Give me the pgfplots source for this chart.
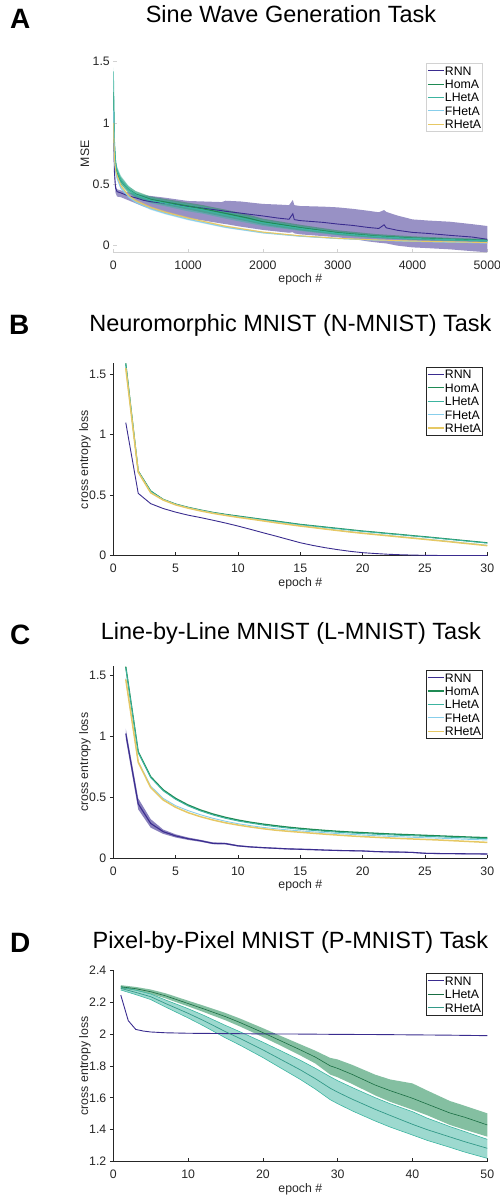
\documentclass[border=0pt]{standalone}
\usepackage{pgfplots}
\pgfplotsset{compat=1.18}
\usepackage{pgfplotstable}
\usepgfplotslibrary{fillbetween}
\usepackage{fontspec}
\setmainfont{Liberation Sans}
\definecolor{rnn}{RGB}{58,44,143}
\definecolor{homa}{RGB}{31,138,84}
\definecolor{lheta}{RGB}{60,180,160}
\definecolor{fheta}{RGB}{135,206,235}
\definecolor{rheta}{RGB}{230,200,100}
\definecolor{axgray}{RGB}{38,38,38}
\definecolor{lightax}{RGB}{210,210,210}

% ---------------- Panel A data (x, mean, lower, upper)
\pgfplotstableread{
x m lo hi
0 1.00 0.95 1.05
15 0.60 0.55 0.65
30 0.47 0.43 0.50
50 0.44 0.40 0.46
100 0.43 0.395 0.45
200 0.405 0.37 0.435
300 0.39 0.345 0.42
400 0.37 0.32 0.41
500 0.358 0.30 0.405
700 0.345 0.265 0.39
1000 0.32 0.223 0.364
1200 0.305 0.205 0.36
1450 0.285 0.18 0.355
1500 0.28 0.176 0.366
1700 0.265 0.155 0.36
2000 0.242 0.128 0.34
2200 0.225 0.115 0.335
2350 0.215 0.105 0.33
2400 0.26 0.11 0.372
2420 0.212 0.10 0.33
2500 0.204 0.092 0.323
2800 0.19 0.078 0.318
3000 0.176 0.068 0.312
3200 0.165 0.055 0.30
3400 0.149 0.035 0.285
3550 0.14 0.024 0.272
3620 0.17 0.02 0.29
3650 0.145 0.018 0.275
3800 0.125 0.0 0.245
4000 0.108 -0.014 0.214
4200 0.1 -0.02 0.205
4500 0.084 -0.03 0.195
4800 0.07 -0.045 0.175
5000 0.052 -0.054 0.16
}\Arnn
\pgfplotstableread{
x m lo hi
0 1.25 1.2 1.3
15 0.80 0.76 0.84
30 0.66 0.62 0.70
50 0.60 0.57 0.63
100 0.53 0.50 0.56
200 0.46 0.435 0.485
300 0.42 0.395 0.445
500 0.377 0.355 0.40
700 0.355 0.33 0.38
1000 0.323 0.295 0.35
1200 0.30 0.27 0.33
1500 0.263 0.233 0.293
1800 0.225 0.197 0.253
2000 0.195 0.17 0.22
2500 0.147 0.125 0.17
3000 0.106 0.088 0.125
3500 0.079 0.063 0.095
4000 0.062 0.048 0.076
4500 0.052 0.04 0.064
5000 0.043 0.032 0.054
}\Ahoma
\pgfplotstableread{
x m lo hi
0 1.42 1.38 1.45
15 0.85 0.80 0.90
30 0.68 0.64 0.72
50 0.61 0.575 0.645
100 0.535 0.50 0.57
200 0.46 0.43 0.49
300 0.415 0.39 0.44
500 0.37 0.345 0.395
700 0.345 0.32 0.37
1000 0.31 0.28 0.34
1200 0.29 0.26 0.32
1500 0.25 0.22 0.28
2000 0.185 0.16 0.21
2500 0.14 0.12 0.16
3000 0.10 0.085 0.115
3500 0.075 0.062 0.088
4000 0.058 0.047 0.069
5000 0.04 0.03 0.05
}\Alheta
\pgfplotstableread{
x m lo hi
0 1.10 1.08 1.12
15 0.70 0.68 0.72
30 0.60 0.585 0.615
50 0.55 0.535 0.565
100 0.47 0.458 0.482
200 0.40 0.39 0.41
300 0.355 0.345 0.365
500 0.30 0.291 0.309
700 0.262 0.254 0.27
1000 0.215 0.207 0.223
1500 0.15 0.143 0.157
2000 0.105 0.099 0.111
2500 0.077 0.072 0.082
3000 0.058 0.054 0.062
3500 0.045 0.041 0.049
4000 0.035 0.031 0.039
5000 0.022 0.019 0.025
}\Afheta
\pgfplotstableread{
x m lo hi
0 1.00 0.98 1.02
15 0.72 0.70 0.74
30 0.62 0.605 0.635
50 0.57 0.555 0.585
100 0.49 0.478 0.502
200 0.41 0.40 0.42
300 0.365 0.355 0.375
500 0.31 0.30 0.32
700 0.272 0.264 0.28
1000 0.225 0.217 0.233
1500 0.158 0.151 0.165
2000 0.11 0.104 0.116
2500 0.08 0.075 0.085
3000 0.06 0.056 0.064
3500 0.047 0.043 0.051
4000 0.037 0.033 0.041
5000 0.025 0.022 0.028
}\Arheta

% ---------------- Panel B data
\pgfplotstableread{
x rnn homa lheta fheta rheta
1 1.10 1.59 1.587 1.553 1.55
2 0.515 0.70 0.697 0.693 0.69
3 0.43 0.535 0.532 0.523 0.52
4 0.39 0.466 0.463 0.463 0.46
5 0.36 0.427 0.424 0.423 0.42
6 0.335 0.40 0.397 0.396 0.393
7 0.315 0.378 0.375 0.373 0.37
8 0.293 0.358 0.355 0.353 0.35
9 0.27 0.342 0.339 0.336 0.333
10 0.245 0.328 0.325 0.320 0.317
11 0.218 0.314 0.311 0.306 0.303
12 0.19 0.30 0.297 0.291 0.288
13 0.163 0.287 0.284 0.276 0.273
14 0.135 0.273 0.270 0.262 0.259
15 0.107 0.259 0.256 0.248 0.245
16 0.085 0.248 0.245 0.236 0.233
17 0.066 0.237 0.234 0.223 0.22
18 0.05 0.226 0.223 0.211 0.208
19 0.036 0.215 0.212 0.199 0.196
20 0.025 0.204 0.201 0.188 0.185
21 0.018 0.195 0.192 0.178 0.175
22 0.012 0.185 0.182 0.168 0.165
23 0.008 0.176 0.173 0.158 0.155
24 0.005 0.166 0.163 0.148 0.145
25 0.003 0.157 0.154 0.138 0.135
26 0.002 0.147 0.144 0.128 0.125
27 0.001 0.137 0.134 0.118 0.115
28 0.001 0.127 0.124 0.107 0.104
29 0.0 0.117 0.114 0.097 0.094
30 0.0 0.107 0.104 0.086 0.083
}\Bdata

% ---------------- Panel C data
\pgfplotstableread{
x m lo hi
1 1.02 0.98 1.06
2 0.445 0.40 0.49
3 0.285 0.25 0.32
4 0.218 0.20 0.235
5 0.183 0.17 0.196
6 0.16 0.15 0.17
7 0.143 0.135 0.151
8 0.122 0.115 0.13
9 0.12 0.113 0.127
10 0.102 0.096 0.108
11 0.093 0.088 0.098
12 0.087 0.082 0.092
13 0.082 0.077 0.087
14 0.077 0.072 0.082
15 0.074 0.069 0.079
16 0.071 0.066 0.076
17 0.067 0.063 0.071
18 0.064 0.06 0.068
19 0.062 0.058 0.066
20 0.06 0.056 0.064
21 0.055 0.051 0.059
22 0.052 0.048 0.056
23 0.051 0.047 0.055
24 0.048 0.044 0.052
25 0.041 0.037 0.045
26 0.039 0.035 0.043
27 0.038 0.034 0.042
28 0.037 0.033 0.041
29 0.036 0.032 0.04
30 0.035 0.031 0.039
}\Crnn
\pgfplotstableread{
x homa lheta fheta rheta
1 1.567 1.56 1.47 1.463
2 0.87 0.865 0.79 0.785
3 0.667 0.66 0.59 0.578
4 0.56 0.552 0.49 0.477
5 0.49 0.482 0.43 0.417
6 0.436 0.428 0.39 0.373
7 0.395 0.387 0.356 0.34
8 0.362 0.354 0.327 0.313
9 0.335 0.327 0.303 0.29
10 0.313 0.305 0.283 0.272
11 0.295 0.288 0.267 0.256
12 0.28 0.272 0.253 0.242
13 0.267 0.259 0.242 0.23
14 0.255 0.247 0.232 0.221
15 0.245 0.237 0.224 0.213
16 0.236 0.228 0.216 0.205
17 0.228 0.220 0.209 0.197
18 0.221 0.213 0.202 0.19
19 0.215 0.207 0.196 0.183
20 0.21 0.202 0.19 0.177
21 0.205 0.197 0.185 0.172
22 0.2 0.192 0.18 0.167
23 0.196 0.188 0.176 0.162
24 0.192 0.184 0.172 0.158
25 0.188 0.180 0.168 0.154
26 0.184 0.176 0.165 0.15
27 0.18 0.172 0.161 0.145
28 0.176 0.168 0.157 0.14
29 0.172 0.164 0.153 0.135
30 0.169 0.161 0.15 0.13
}\Cdata

% ---------------- Panel D data
\pgfplotstableread{
x m
1 2.243
2 2.083
3 2.028
4 2.018
5 2.012
7 2.007
10 2.004
15 2.002
20 2.0
25 1.999
30 1.997
35 1.996
40 1.994
45 1.992
50 1.989
}\Drnn
\pgfplotstableread{
x m lo hi
1 2.295 2.285 2.305
3 2.283 2.272 2.294
5 2.264 2.250 2.278
7 2.238 2.222 2.254
10 2.19 2.172 2.208
12 2.158 2.138 2.178
15 2.108 2.085 2.131
17 2.07 2.045 2.095
20 2.008 1.98 2.036
22 1.965 1.935 1.995
25 1.90 1.865 1.935
27 1.855 1.815 1.895
29 1.80 1.745 1.85
30 1.784 1.728 1.84
32 1.745 1.685 1.805
35 1.68 1.615 1.745
37 1.645 1.575 1.715
40 1.597 1.525 1.69
42 1.56 1.49 1.645
45 1.505 1.43 1.58
47 1.478 1.40 1.55
50 1.43 1.357 1.503
}\Dlheta
\pgfplotstableread{
x m lo hi
1 2.285 2.275 2.295
3 2.26 2.246 2.274
5 2.233 2.215 2.25
7 2.19 2.168 2.212
10 2.129 2.10 2.158
12 2.085 2.052 2.118
15 2.014 1.975 2.053
17 1.97 1.928 2.012
20 1.90 1.852 1.948
22 1.85 1.797 1.903
25 1.775 1.715 1.835
27 1.72 1.655 1.785
29 1.66 1.588 1.732
30 1.635 1.563 1.707
32 1.59 1.517 1.663
35 1.528 1.455 1.601
37 1.49 1.417 1.563
40 1.434 1.367 1.513
42 1.40 1.333 1.472
45 1.355 1.29 1.42
47 1.325 1.26 1.388
50 1.284 1.221 1.34
}\Drheta

\newcommand{\band}[5]{%
  \addplot[name path=#1u, draw=none, forget plot] table[x=x,y=hi]{#2};
  \addplot[name path=#1l, draw=none, forget plot] table[x=x,y=lo]{#2};
  \addplot[fill=#3, fill opacity=#4, draw=none, forget plot, #5] fill between[of=#1u and #1l];
}

\pgfplotsset{
  panel/.style={
    scale only axis, width=374pt, anchor=south west,
    axis x line*=bottom, axis y line*=left,
    xmin=0,
    tick label style={font=\fontsize{12.3}{14}\selectfont, text=axgray},
    label style={font=\fontsize{12.3}{14}\selectfont, text=axgray},
    /pgf/number format/assume math mode=true,
    /pgf/number format/1000 sep={},
    scaled ticks=false,
    xlabel={epoch \#},
    xlabel style={at={(axis description cs:0.5,0)}, anchor=base, yshift=-30.4pt},
    ylabel style={at={(axis description cs:-0.0757,0.5)}, anchor=center},
    xticklabel style={anchor=base, yshift=-17pt},
    yticklabel style={anchor=east, inner sep=0pt, xshift=-3.3pt},
    major tick length=3.5pt,
    axis line style={draw=axgray, line width=0.7pt},
    tick style={draw=axgray, line width=0.6pt},
    xtick align=inside, ytick align=outside,
    legend cell align=left,
    legend style={font=\fontsize{12.3}{14}\selectfont, anchor=north east,
      draw=axgray, line width=0.7pt, inner xsep=1pt, inner ysep=2.5pt,
      row sep=3.6pt,
      nodes={inner sep=0.5pt, text height=8.8pt, text depth=0pt}},
    legend image code/.code={\draw[##1] (0pt,0pt) -- (16pt,0pt);},
    every axis plot/.append style={line width=0.9pt},
  }
}

\begin{document}
\begin{tikzpicture}

% ---------- titles and letters
\node[anchor=base, inner sep=0pt, font=\fontsize{23.5}{28}\selectfont] at (291pt,1174.3pt) {Sine Wave Generation Task};
\node[anchor=base, inner sep=0pt, font=\fontsize{23.5}{28}\selectfont] at (290.4pt,865.3pt) {Neuromorphic MNIST (N-MNIST) Task};
\node[anchor=base, inner sep=0pt, font=\fontsize{23.5}{28}\selectfont] at (290.8pt,557pt) {Line-by-Line MNIST (L-MNIST) Task};
\node[anchor=base, inner sep=0pt, font=\fontsize{23.5}{28}\selectfont] at (290.4pt,248.7pt) {Pixel-by-Pixel MNIST (P-MNIST) Task};
\node[anchor=base west, inner sep=0pt, font=\bfseries\fontsize{28}{32}\selectfont] at (10pt,1168.7pt) {A};
\node[anchor=base west, inner sep=0pt, font=\bfseries\fontsize{28}{32}\selectfont] at (9pt,862pt) {B};
\node[anchor=base west, inner sep=0pt, font=\bfseries\fontsize{28}{32}\selectfont] at (10pt,552pt) {C};
\node[anchor=base west, inner sep=0pt, font=\bfseries\fontsize{28}{32}\selectfont] at (10pt,244.3pt) {D};

% ---------- Panel A
\begin{axis}[panel, at={(113.3pt,944.7pt)}, height=196.9pt,
  xmax=5000, ymin=-0.054, ymax=1.55,
  xtick={0,1000,...,5000}, ytick={0,0.5,1,1.5},
  ylabel={MSE},
  axis line style={draw=lightax, line width=0.7pt},
  y axis line style={draw=none},
  tick style={draw=lightax, line width=0.6pt},
  ytick align=inside,
  legend style={at={(axis description cs:0.9885,0.9614)}, draw=lightax}]
\band{ar}{\Arnn}{rnn}{0.52}{}
\band{ah}{\Ahoma}{homa}{0.5}{}
\band{al}{\Alheta}{lheta}{0.5}{}
\band{af}{\Afheta}{fheta}{0.5}{}
\band{ay}{\Arheta}{rheta}{0.5}{}
\addplot[rnn] table[x=x,y=m]{\Arnn};
\addplot[homa, line width=1.1pt] table[x=x,y=m]{\Ahoma};
\addplot[lheta, line width=1.1pt] table[x=x,y=m]{\Alheta};
\addplot[fheta] table[x=x,y=m]{\Afheta};
\addplot[rheta] table[x=x,y=m]{\Arheta};
\legend{RNN,HomA,LHetA,FHetA,RHetA}
\end{axis}

% ---------- Panel B
\begin{axis}[panel, at={(113.3pt,641.3pt)}, height=192.4pt,
  xmax=30, ymin=0, ymax=1.59,
  xtick={0,5,...,30}, ytick={0,0.5,1,1.5},
  ylabel={cross entropy loss},
  legend style={at={(axis description cs:0.9885,0.982)}}]
\addplot[rnn] table[x=x,y=rnn]{\Bdata};
\addplot[homa, line width=1.1pt] table[x=x,y=homa]{\Bdata};
\addplot[lheta] table[x=x,y=lheta]{\Bdata};
\addplot[fheta] table[x=x,y=fheta]{\Bdata};
\addplot[rheta, line width=1.5pt] table[x=x,y=rheta]{\Bdata};
\legend{RNN,HomA,LHetA,FHetA,RHetA}
\end{axis}

% ---------- Panel C
\begin{axis}[panel, at={(113.3pt,338.7pt)}, height=192pt,
  xmax=30, ymin=0, ymax=1.57,
  xtick={0,5,...,30}, ytick={0,0.5,1,1.5},
  ylabel={cross entropy loss},
  legend style={at={(axis description cs:0.9885,0.981)}}]
\band{cr}{\Crnn}{rnn}{0.6}{}
\addplot[rnn, line width=1.1pt] table[x=x,y=m]{\Crnn};
\addplot[homa, line width=1.3pt] table[x=x,y=homa]{\Cdata};
\addplot[lheta] table[x=x,y=lheta]{\Cdata};
\addplot[fheta] table[x=x,y=fheta]{\Cdata};
\addplot[rheta, line width=1.5pt] table[x=x,y=rheta]{\Cdata};
\legend{RNN,HomA,LHetA,FHetA,RHetA}
\end{axis}

% ---------- Panel D
\begin{axis}[panel, at={(113.3pt,35.3pt)}, height=191.7pt,
  xmax=50, ymin=1.2, ymax=2.4,
  xtick={0,10,...,50}, ytick={1.2,1.4,1.6,1.8,2,2.2,2.4},
  ylabel={cross entropy loss},
  legend style={at={(axis description cs:0.9885,0.984)}}]
\band{dr}{\Drheta}{lheta}{0.5}{}
\band{dl}{\Dlheta}{homa}{0.55}{}
\addplot[lheta, line width=0.6pt, forget plot] table[x=x,y=hi]{\Drheta};
\addplot[lheta, line width=0.6pt, forget plot] table[x=x,y=lo]{\Drheta};
\addplot[rnn] table[x=x,y=m]{\Drnn};
\addplot[homa!80!black, line width=0.6pt] table[x=x,y=m]{\Dlheta};
\addplot[lheta!85!black, line width=0.7pt] table[x=x,y=m]{\Drheta};
\legend{RNN,LHetA,RHetA}
\end{axis}

\pgfresetboundingbox
\useasboundingbox (0pt,0pt) rectangle (499pt,1197pt);
\end{tikzpicture}
\end{document}
